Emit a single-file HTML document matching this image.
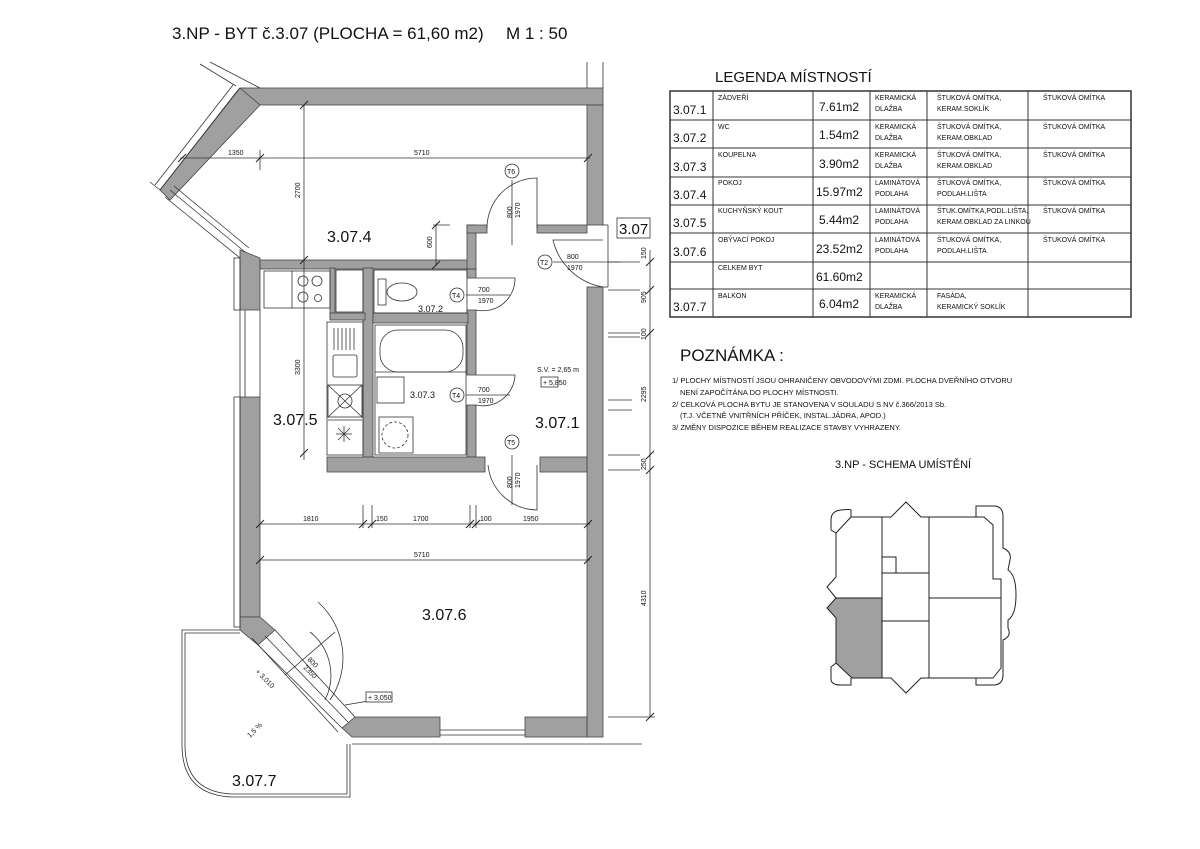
<!DOCTYPE html>
<html><head><meta charset="utf-8"><style>
html,body{margin:0;padding:0;background:#fff;}
svg{display:block;}
text{font-family:"Liberation Sans",sans-serif;fill:#111;}
.t{font-size:9px;}
.s{font-size:7px;}
</style></head><body>
<svg width="1200" height="849" viewBox="0 0 1200 849" xmlns="http://www.w3.org/2000/svg">
<rect width="1200" height="849" fill="#fff"/>
<text x="172" y="39" style="font-size:17px">3.NP - BYT č.3.07 (PLOCHA = 61,60 m2)</text>
<text x="506" y="39" style="font-size:17px">M 1 : 50</text>

<g fill="#a0a0a0" stroke="#444" stroke-width="0.8">
 <rect x="240" y="88" width="363" height="17"/>
 <rect x="587" y="105" width="16" height="120"/>
 <rect x="587" y="287" width="16" height="450"/>
 <polygon points="240,88 260,105 170,200 160,190"/>
 <polygon points="240,250 260,258 260,268 260,310 240,310 240,258"/>
 <rect x="240" y="397" width="20" height="220"/>
 <polygon points="240,617 260,617 275,630 258,645 240,630"/>
 <polygon points="342,728 355,717 440,717 440,737 352,737"/>
 <rect x="525" y="717" width="62" height="20"/>
 <rect x="260" y="260" width="215" height="9"/>
 <rect x="467" y="225" width="9" height="44"/>
 <rect x="467" y="225" width="20" height="8"/>
 <rect x="537" y="225" width="50" height="8"/>
 <rect x="467" y="269" width="9" height="9"/>
 <rect x="467" y="310" width="9" height="65"/>
 <rect x="467" y="405" width="9" height="52"/>
 <rect x="330" y="268" width="5" height="50"/>
 <rect x="363" y="268" width="10" height="190"/>
 <rect x="330" y="313" width="35" height="7"/>
 <rect x="373" y="313" width="95" height="10"/>
 <rect x="327" y="457" width="158" height="15"/>
 <rect x="540" y="457" width="47" height="15"/>
</g>
<g fill="none" stroke="#333" stroke-width="0.8">
 <line x1="165" y1="197" x2="240" y2="258"/>
 <line x1="170" y1="190" x2="245" y2="252"/>
 <line x1="174" y1="186" x2="249" y2="248"/>
 <line x1="160" y1="190" x2="150" y2="182"/>
 <polyline points="160,190 238,90 240,88"/>
 <polyline points="155,185 233,85"/>
 <line x1="200" y1="64" x2="236" y2="86"/>
 <line x1="210" y1="62" x2="260" y2="88"/>
 <line x1="587" y1="62" x2="587" y2="88"/><line x1="603" y1="62" x2="603" y2="88"/>
 <rect x="234" y="258" width="6" height="52"/>
 <rect x="234" y="397" width="6" height="230"/>
 <line x1="240" y1="310" x2="240" y2="397"/><line x1="245" y1="310" x2="245" y2="397"/><line x1="260" y1="310" x2="260" y2="397"/>
 <line x1="258" y1="645" x2="342" y2="728"/>
 <line x1="275" y1="630" x2="355" y2="717"/>
 <line x1="252" y1="638" x2="338" y2="732"/>
 <line x1="265" y1="636" x2="348" y2="722"/>
 <line x1="440" y1="730" x2="525" y2="730"/><line x1="440" y1="735" x2="525" y2="735"/><line x1="440" y1="744" x2="525" y2="744"/>
 <line x1="352" y1="744" x2="440" y2="744"/><line x1="525" y1="744" x2="642" y2="744"/>
 <line x1="603" y1="225" x2="608" y2="225"/><line x1="603" y1="287" x2="608" y2="287"/>
 <line x1="608" y1="225" x2="608" y2="287"/>
 <path d="M240,630 L182,630 L182,745 Q182,795 232,797 L350,797 L350,744"/>
 <path d="M240,633 L185,633 L185,745 Q185,792 232,794 L347,794 L347,744"/>
 <rect x="264" y="271" width="66" height="37"/>
 <line x1="292" y1="271" x2="292" y2="308"/>
 <circle cx="303" cy="281" r="5"/><circle cx="317" cy="281" r="5"/><circle cx="303" cy="297" r="5"/><circle cx="318" cy="298" r="3.5"/>
 <rect x="336" y="270" width="27" height="42"/>
 <rect x="327" y="322" width="36" height="133"/>
 <line x1="334" y1="328" x2="334" y2="350"/><line x1="338" y1="328" x2="338" y2="350"/><line x1="342" y1="328" x2="342" y2="350"/><line x1="346" y1="328" x2="346" y2="350"/><line x1="350" y1="328" x2="350" y2="350"/><line x1="354" y1="328" x2="354" y2="350"/>
 <rect x="333" y="355" width="24" height="22" rx="2"/>
 <rect x="328" y="385" width="34" height="32"/>
 <line x1="328" y1="385" x2="362" y2="417"/><line x1="362" y1="385" x2="328" y2="417"/>
 <circle cx="345" cy="401" r="7"/>
 <line x1="328" y1="420" x2="362" y2="420"/>
 <line x1="336" y1="434" x2="352" y2="434"/><line x1="344" y1="426" x2="344" y2="442"/><line x1="338" y1="428" x2="350" y2="440"/><line x1="350" y1="428" x2="338" y2="440"/>
 <rect x="374" y="270" width="93" height="43"/>
 <rect x="378" y="279" width="8" height="26"/>
 <ellipse cx="402" cy="292" rx="15" ry="9"/>
 <rect x="375" y="325" width="91" height="130"/>
 <rect x="380" y="330" width="83" height="42" rx="18"/>
 <line x1="375" y1="372" x2="467" y2="372"/>
 <rect x="377" y="377" width="27" height="26"/>
 <rect x="379" y="417" width="34" height="36"/>
 <circle cx="395" cy="435" r="13" stroke-dasharray="3,2"/>
 <path d="M487,228 A50,50 0 0 1 537,178 L537,228"/>
 <line x1="512" y1="180" x2="512" y2="245"/>
 <path d="M603,287 A62,62 0 0 1 553,240 L603,240"/>
 <line x1="553" y1="262" x2="620" y2="262"/>
 <path d="M476,278 L515,278 A32,32 0 0 1 476,310"/>
 <line x1="466" y1="295" x2="510" y2="295"/>
 <path d="M476,375 L515,375 A32,32 0 0 1 476,405"/>
 <line x1="466" y1="395" x2="510" y2="395"/>
 <path d="M488,465 A50,50 0 0 0 537,510 L537,465"/>
 <line x1="512" y1="455" x2="512" y2="505"/>
 <path d="M310,632 A55,55 0 0 1 325,700"/>
 <path d="M318,602 A75,75 0 0 1 330,700"/>
 <line x1="285" y1="675" x2="335" y2="632"/>
 <line x1="180" y1="158" x2="590" y2="158"/>
 <line x1="260" y1="150" x2="260" y2="170"/>
 <line x1="304" y1="105" x2="304" y2="460"/>
 <line x1="436" y1="225" x2="436" y2="266"/>
 <line x1="433" y1="225" x2="450" y2="225"/>
 <line x1="260" y1="524" x2="590" y2="524"/>
 <line x1="260" y1="560" x2="590" y2="560"/>
 <line x1="363" y1="505" x2="363" y2="528"/><line x1="372" y1="505" x2="372" y2="528"/>
 <line x1="470" y1="505" x2="470" y2="528"/><line x1="476" y1="505" x2="476" y2="528"/>
 <line x1="650" y1="250" x2="650" y2="717"/>
 <line x1="608" y1="717" x2="655" y2="717"/>
 <line x1="608" y1="262" x2="640" y2="262"/><line x1="608" y1="290" x2="640" y2="290"/>
 <line x1="608" y1="333" x2="640" y2="333"/><line x1="608" y1="337" x2="640" y2="337"/>
 <line x1="608" y1="455" x2="640" y2="455"/><line x1="608" y1="470" x2="640" y2="470"/>
 <line x1="608" y1="400" x2="632" y2="400"/><line x1="608" y1="410" x2="632" y2="410"/>
 <line x1="392" y1="697" x2="345" y2="705"/>
</g>
<g stroke="#222" stroke-width="1">
 <line x1="256" y1="162" x2="264" y2="154"/><line x1="584" y1="162" x2="592" y2="154"/><line x1="178" y1="162" x2="186" y2="154"/>
 <line x1="300" y1="109" x2="308" y2="101"/><line x1="300" y1="264" x2="308" y2="256"/><line x1="300" y1="457" x2="308" y2="449"/>
 <line x1="256" y1="528" x2="264" y2="520"/><line x1="359" y1="528" x2="367" y2="520"/><line x1="368" y1="528" x2="376" y2="520"/><line x1="466" y1="528" x2="474" y2="520"/><line x1="472" y1="528" x2="480" y2="520"/><line x1="584" y1="528" x2="592" y2="520"/>
 <line x1="256" y1="564" x2="264" y2="556"/><line x1="584" y1="564" x2="592" y2="556"/>
 <line x1="646" y1="266" x2="654" y2="258"/><line x1="646" y1="294" x2="654" y2="286"/><line x1="646" y1="337" x2="654" y2="329"/><line x1="646" y1="459" x2="654" y2="451"/><line x1="646" y1="474" x2="654" y2="466"/><line x1="646" y1="721" x2="654" y2="713"/>
 <line x1="432" y1="229" x2="440" y2="221"/><line x1="432" y1="269" x2="440" y2="261"/>
</g>
<g fill="#fff" stroke="#333" stroke-width="0.8">
 <circle cx="512" cy="171" r="7"/><circle cx="545" cy="262" r="7"/><circle cx="457" cy="295" r="7"/><circle cx="457" cy="395" r="7"/><circle cx="512" cy="442" r="7"/>
 <rect x="617" y="218" width="33" height="20"/>
 <rect x="541" y="377" width="17" height="10"/>
 <rect x="366" y="692" width="26" height="10"/>
</g>
<g class="s">
 <text x="507" y="174">T6</text><text x="540" y="265">T2</text><text x="452" y="298">T4</text><text x="452" y="398">T4</text><text x="507" y="445">T5</text>
 <text x="478" y="292">700</text><text x="478" y="303">1970</text>
 <text x="478" y="392">700</text><text x="478" y="403">1970</text>
 <text x="567" y="259">800</text><text x="567" y="270">1970</text>
 <text x="537" y="372">S.V. = 2,65 m</text><text x="543" y="385">+ 5,850</text>
 <text x="368" y="700">+ 3,050</text>
 <text transform="translate(512,218) rotate(-90)">800</text><text transform="translate(520,218) rotate(-90)">1970</text>
 <text transform="translate(512,488) rotate(-90)">800</text><text transform="translate(520,488) rotate(-90)">1970</text>
 <text transform="translate(300,198) rotate(-90)">2700</text>
 <text transform="translate(432,248) rotate(-90)">600</text>
 <text transform="translate(300,375) rotate(-90)">3300</text>
 <text transform="translate(646,259) rotate(-90)">150</text>
 <text transform="translate(646,303) rotate(-90)">905</text>
 <text transform="translate(646,340) rotate(-90)">100</text>
 <text transform="translate(646,402) rotate(-90)">2295</text>
 <text transform="translate(646,470) rotate(-90)">250</text>
 <text transform="translate(646,606) rotate(-90)">4310</text>
 <text transform="translate(255,672) rotate(45)">+ 3,010</text>
 <text transform="translate(307,660) rotate(45)">800</text><text transform="translate(303,668) rotate(45)">2350</text>
 <text transform="translate(250,738) rotate(-45)">1,5 %</text>
 <text x="228" y="155">1350</text><text x="414" y="155">5710</text><text x="414" y="557">5710</text>
 <text x="303" y="521">1810</text><text x="376" y="521">150</text><text x="413" y="521">1700</text><text x="480" y="521">100</text><text x="523" y="521">1950</text>
</g>
<g class="t">
 <text x="418" y="312">3.07.2</text><text x="410" y="398">3.07.3</text>
</g>
<g style="font-size:16px">
 <text x="327" y="242">3.07.4</text><text x="273" y="425">3.07.5</text><text x="535" y="428">3.07.1</text>
 <text x="422" y="620">3.07.6</text><text x="232" y="786">3.07.7</text>
 <text x="619" y="234" style="font-size:15px">3.07</text>
</g>

<text x="715" y="82" style="font-size:15px">LEGENDA MÍSTNOSTÍ</text>
<g fill="none" stroke="#333" stroke-width="1">
 <rect x="670" y="91" width="461" height="226" stroke-width="1.5"/>
 <line x1="670" y1="120" x2="1131" y2="120"/><line x1="670" y1="148" x2="1131" y2="148"/><line x1="670" y1="177" x2="1131" y2="177"/><line x1="670" y1="205" x2="1131" y2="205"/><line x1="670" y1="233" x2="1131" y2="233"/><line x1="670" y1="262" x2="1131" y2="262"/><line x1="670" y1="289" x2="1131" y2="289"/>
 <line x1="713" y1="91" x2="713" y2="317"/><line x1="813" y1="91" x2="813" y2="317"/><line x1="870" y1="91" x2="870" y2="317"/><line x1="927" y1="91" x2="927" y2="317"/><line x1="1028" y1="91" x2="1028" y2="317"/>
</g>
<g style="font-size:12px">
 <text x="673" y="114">3.07.1</text><text x="673" y="142">3.07.2</text><text x="673" y="171">3.07.3</text><text x="673" y="199">3.07.4</text><text x="673" y="227">3.07.5</text><text x="673" y="256">3.07.6</text><text x="673" y="311">3.07.7</text>
</g>
<g style="font-size:12px">
 <text x="819" y="111">7.61m2</text><text x="819" y="139">1.54m2</text><text x="819" y="168">3.90m2</text><text x="816" y="196">15.97m2</text><text x="819" y="224">5.44m2</text><text x="816" y="253">23.52m2</text><text x="816" y="281">61.60m2</text><text x="819" y="308">6.04m2</text>
</g>
<g class="s">
 <text x="718" y="100">ZÁDVEŘÍ</text><text x="718" y="129">WC</text><text x="718" y="157">KOUPELNA</text><text x="718" y="185">POKOJ</text><text x="718" y="213">KUCHYŇSKÝ KOUT</text><text x="718" y="242">OBÝVACÍ POKOJ</text><text x="718" y="270">CELKEM BYT</text><text x="718" y="298">BALKON</text>
 <text x="875" y="100">KERAMICKÁ</text><text x="875" y="111">DLAŽBA</text>
 <text x="875" y="129">KERAMICKÁ</text><text x="875" y="140">DLAŽBA</text>
 <text x="875" y="157">KERAMICKÁ</text><text x="875" y="168">DLAŽBA</text>
 <text x="875" y="185">LAMINÁTOVÁ</text><text x="875" y="196">PODLAHA</text>
 <text x="875" y="213">LAMINÁTOVÁ</text><text x="875" y="224">PODLAHA</text>
 <text x="875" y="242">LAMINÁTOVÁ</text><text x="875" y="253">PODLAHA</text>
 <text x="875" y="298">KERAMICKÁ</text><text x="875" y="309">DLAŽBA</text>
 <text x="937" y="100">ŠTUKOVÁ OMÍTKA,</text><text x="937" y="111">KERAM.SOKLÍK</text>
 <text x="937" y="129">ŠTUKOVÁ OMÍTKA,</text><text x="937" y="140">KERAM.OBKLAD</text>
 <text x="937" y="157">ŠTUKOVÁ OMÍTKA,</text><text x="937" y="168">KERAM.OBKLAD</text>
 <text x="937" y="185">ŠTUKOVÁ OMÍTKA,</text><text x="937" y="196">PODLAH.LIŠTA</text>
 <text x="937" y="213">ŠTUK.OMÍTKA,PODL.LIŠTA,</text><text x="937" y="224">KERAM.OBKLAD ZA LINKOU</text>
 <text x="937" y="242">ŠTUKOVÁ OMÍTKA,</text><text x="937" y="253">PODLAH.LIŠTA</text>
 <text x="937" y="298">FASÁDA,</text><text x="937" y="309">KERAMICKÝ SOKLÍK</text>
 <text x="1043" y="100">ŠTUKOVÁ OMÍTKA</text><text x="1043" y="129">ŠTUKOVÁ OMÍTKA</text><text x="1043" y="157">ŠTUKOVÁ OMÍTKA</text><text x="1043" y="185">ŠTUKOVÁ OMÍTKA</text><text x="1043" y="213">ŠTUKOVÁ OMÍTKA</text><text x="1043" y="242">ŠTUKOVÁ OMÍTKA</text>
</g>

<text x="680" y="361" style="font-size:17px">POZNÁMKA :</text>
<g style="font-size:7.5px">
 <text x="672" y="383">1/ PLOCHY MÍSTNOSTÍ JSOU OHRANIČENY OBVODOVÝMI ZDMI. PLOCHA DVEŘNÍHO OTVORU</text>
 <text x="680" y="395">NENÍ ZAPOČÍTÁNA DO PLOCHY MÍSTNOSTI.</text>
 <text x="672" y="407">2/ CELKOVÁ PLOCHA BYTU JE STANOVENA V SOULADU S NV č.366/2013 Sb.</text>
 <text x="680" y="418">(T.J. VČETNĚ VNITŘNÍCH PŘÍČEK, INSTAL.JÁDRA, APOD.)</text>
 <text x="672" y="430">3/ ZMĚNY DISPOZICE BĚHEM REALIZACE STAVBY VYHRAZENY.</text>
</g>
<text x="835" y="468" style="font-size:11px">3.NP - SCHEMA UMÍSTĚNÍ</text>

<g fill="none" stroke="#222" stroke-width="1">
 <polygon points="836,598 882,598 882,678 852,678 836,663 836,618 827,608" fill="#a0a0a0"/>
 <polyline points="851,517 891,517 906,502 921,517 984,517 993,525 993,579 1001,579 1001,598 1001,668 993,678 921,678 906,693 891,678 852,678"/>
 <polyline points="851,517 836,533 836,577 827,587 836,598"/>
 <path d="M851,517 L851,510 Q851,509 841,510 Q831,511 831,520 L831,530 L836,533"/>
 <path d="M836,663 L831,667 L831,680 Q832,685 841,685 L851,685 L851,678"/>
 <path d="M984,517 L976,517 L976,506 L995,506 Q1003,507 1003,516 L1003,548 Q1012,552 1010,560 L1008,570 Q1016,575 1016,595 Q1016,615 1008,620 L1008,628 Q1012,636 1003,640 L1003,675 Q1003,685 993,685 L976,685 L976,678"/>
 <line x1="882" y1="517" x2="882" y2="678"/>
 <line x1="929" y1="517" x2="929" y2="678"/>
 <line x1="882" y1="573" x2="929" y2="573"/>
 <line x1="882" y1="621" x2="929" y2="621"/>
 <line x1="929" y1="598" x2="1001" y2="598"/>
 <polyline points="882,557 896,557 896,573"/>
</g>
</svg>
</body></html>
